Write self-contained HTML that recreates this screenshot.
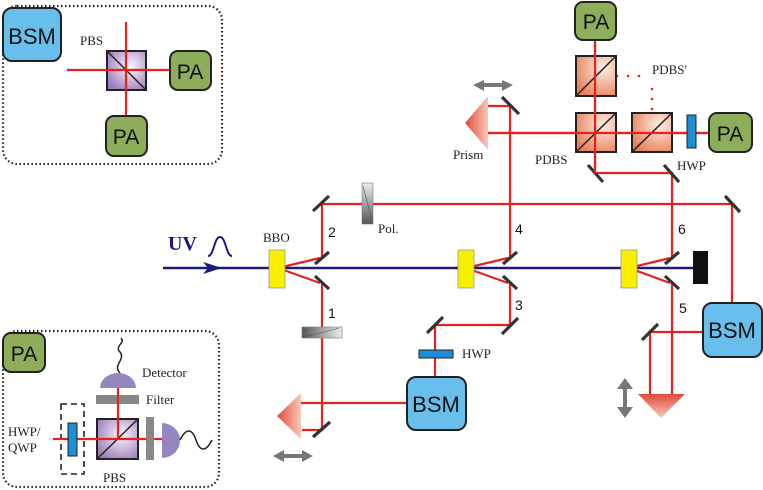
<!DOCTYPE html>
<html><head><meta charset="utf-8"><style>
html,body{margin:0;padding:0;background:#fff}
svg{display:block}
.r{stroke:#e3231f;stroke-width:2.2;fill:none}
.m{stroke:#333;stroke-width:3.2}
.ser{font-family:"Liberation Serif",serif;font-size:13px;fill:#222}
.san{font-family:"Liberation Sans",sans-serif;fill:#111}
</style></head><body>
<svg width="763" height="490" viewBox="0 0 763 490" xmlns="http://www.w3.org/2000/svg">
<defs>
<radialGradient id="pur" cx="0.6" cy="0.4" r="0.7"><stop offset="0" stop-color="#fbf6fd"/><stop offset="1" stop-color="#9b7cb8"/></radialGradient>
<radialGradient id="org" cx="0.7" cy="0.3" r="0.8"><stop offset="0" stop-color="#fdeee4"/><stop offset="1" stop-color="#e8805a"/></radialGradient>
<linearGradient id="pr" x1="0" x2="1"><stop offset="0" stop-color="#e24a3a"/><stop offset="1" stop-color="#f8c8b8"/></linearGradient>
<linearGradient id="prv" x1="0" y1="0" x2="0" y2="1"><stop offset="0" stop-color="#e24a3a"/><stop offset="1" stop-color="#f8c8b8"/></linearGradient>
<linearGradient id="pol" x1="0" x2="1"><stop offset="0" stop-color="#555"/><stop offset="1" stop-color="#eee"/></linearGradient>
<linearGradient id="polv" x1="0" y1="0" x2="0" y2="1"><stop offset="0" stop-color="#eee"/><stop offset="1" stop-color="#555"/></linearGradient>
</defs>

<!-- top-left inset -->
<rect x="3" y="6" width="219" height="158" rx="14" fill="none" stroke="#222" stroke-width="2.2" stroke-dasharray="1.5 2.5"/>
<rect x="3" y="8" width="58" height="53" rx="9" fill="#69bfec" stroke="#222" stroke-width="2"/>
<text x="32" y="44" class="san" font-size="22" text-anchor="middle">BSM</text>
<text x="80" y="45" class="ser">PBS</text>
<rect x="107" y="51" width="39" height="39" fill="url(#pur)" stroke="#222" stroke-width="2"/>
<line x1="107" y1="51" x2="146" y2="90" stroke="#222" stroke-width="1.5"/>
<line class="r" x1="67" y1="70" x2="171" y2="70"/>
<line class="r" x1="126" y1="22" x2="126" y2="117"/>
<rect x="170" y="51" width="41" height="39" rx="8" fill="#8ead5a" stroke="#222" stroke-width="2"/>
<text x="190" y="79" class="san" font-size="21" text-anchor="middle">PA</text>
<rect x="106" y="116" width="41" height="40" rx="8" fill="#8ead5a" stroke="#222" stroke-width="2"/>
<text x="126" y="144" class="san" font-size="21" text-anchor="middle">PA</text>

<!-- bottom-left inset -->
<rect x="3" y="331" width="216" height="156" rx="14" fill="none" stroke="#222" stroke-width="2.2" stroke-dasharray="1.5 2.5"/>
<rect x="3" y="333" width="42" height="39" rx="8" fill="#8ead5a" stroke="#222" stroke-width="2"/>
<text x="24" y="361" class="san" font-size="21" text-anchor="middle">PA</text>
<path d="M120 373 C112 365 126 360 120 352 C114 346 126 343 121 338" fill="none" stroke="#222" stroke-width="1.5"/>
<path d="M100 388 A18 15 0 0 1 136 388 Z" fill="#9586c0"/>
<text x="142" y="377" class="ser" font-size="14">Detector</text>
<rect x="96" y="395" width="43" height="9" fill="#888"/>
<text x="146" y="404" class="ser" font-size="14">Filter</text>
<rect x="61" y="404" width="23" height="70" fill="none" stroke="#222" stroke-width="1.6" stroke-dasharray="6 4"/>
<rect x="97" y="419" width="41" height="40" fill="url(#pur)" stroke="#222" stroke-width="2"/>
<line x1="97" y1="459" x2="138" y2="419" stroke="#222" stroke-width="1.5"/>
<line class="r" x1="53" y1="439" x2="163" y2="439"/>
<line class="r" x1="118" y1="388" x2="118" y2="439"/>
<rect x="68" y="423" width="9" height="33" fill="#1d8fd6" stroke="#222" stroke-width="1"/>
<rect x="146" y="417" width="8" height="43" fill="#888"/>
<path d="M162 423 A18 17.5 0 0 1 162 458 Z" fill="#9586c0"/>
<path d="M180 440 C186 428 192 428 196 440 C200 452 206 452 212 440" fill="none" stroke="#222" stroke-width="1.5"/>
<text x="8" y="436" class="ser" font-size="14">HWP/</text>
<text x="8" y="452" class="ser" font-size="14">QWP</text>
<text x="103" y="482" class="ser" font-size="14">PBS</text>

<!-- red beams main -->
<g class="r">
<polyline points="278,268 320,258"/><polyline points="278,268 320,283"/>
<polyline points="466,268 508,258"/><polyline points="466,268 508,283"/>
<polyline points="629,268 670,258"/><polyline points="629,268 670,283"/>
<polyline points="322,258 322,204 732,204 732,303"/>
<polyline points="322,283 322,430 302,430"/>
<line x1="301" y1="403" x2="408" y2="403"/>
<polyline points="510,258 510,106 488,106"/>
<line x1="488" y1="133" x2="710" y2="133"/>
<polyline points="510,283 510,325 435,325 435,377"/>
<polyline points="672,258 672,173 595,173 595,40"/>
<line x1="672" y1="283" x2="672" y2="394"/>
<polyline points="650,394 650,332 703,332"/>
</g>
<!-- dotted -->
<g fill="#e3231f">
<circle cx="606" cy="76" r="1.3"/><circle cx="617" cy="76" r="1.3"/><circle cx="628" cy="76" r="1.3"/><circle cx="639" cy="76" r="1.3"/>
<circle cx="652" cy="89" r="1.3"/><circle cx="652" cy="99" r="1.3"/><circle cx="652" cy="109" r="1.3"/><circle cx="652" cy="119" r="1.3"/>
</g>

<!-- UV -->
<line x1="163" y1="268" x2="693" y2="268" stroke="#1b1a7c" stroke-width="2.6"/>
<path d="M203 262 L222 268 L203 274 L208 268 Z" fill="#1b1a7c"/>
<text x="168" y="250" font-family="Liberation Serif,serif" font-weight="bold" font-size="20" fill="#1b1a7c">UV</text>
<path d="M208 256 C214 256 214 237 220 237 C226 237 226 256 232 256" fill="none" stroke="#1b1a7c" stroke-width="2"/>
<rect x="693" y="251" width="15" height="33" fill="#111"/>

<!-- BBOs -->
<rect x="269" y="250" width="16" height="38" fill="#f6f000" stroke="#999" stroke-width="0.8"/>
<rect x="458" y="250" width="16" height="38" fill="#f6f000" stroke="#999" stroke-width="0.8"/>
<rect x="621" y="250" width="16" height="38" fill="#f6f000" stroke="#999" stroke-width="0.8"/>
<text x="263" y="242" class="ser">BBO</text>

<!-- mirrors -->
<g class="m">
<line x1="315" y1="264" x2="329" y2="252"/><line x1="315" y1="276" x2="329" y2="289"/>
<line x1="313" y1="211" x2="329" y2="196"/>
<line x1="313" y1="437" x2="330" y2="422"/>
<line x1="503" y1="264" x2="517" y2="252"/><line x1="503" y1="276" x2="517" y2="289"/>
<line x1="502" y1="334" x2="518" y2="318"/>
<line x1="427" y1="333" x2="443" y2="317"/>
<line x1="502" y1="97" x2="519" y2="114"/>
<line x1="665" y1="264" x2="679" y2="252"/><line x1="665" y1="276" x2="679" y2="289"/>
<line x1="588" y1="165" x2="603" y2="182"/>
<line x1="664" y1="165" x2="679" y2="182"/>
<line x1="725" y1="196" x2="740" y2="212"/>
<line x1="642" y1="340" x2="658" y2="324"/>
</g>

<!-- polarizers -->
<rect x="362" y="183" width="11" height="41" fill="url(#polv)" stroke="#777" stroke-width="0.6"/>
<line x1="363" y1="186" x2="372" y2="221" stroke="#555" stroke-width="0.6"/>
<text x="378" y="233" class="ser">Pol.</text>
<rect x="302" y="327" width="40" height="11" fill="url(#pol)" stroke="#777" stroke-width="0.6"/>
<line x1="305" y1="337" x2="339" y2="328" stroke="#555" stroke-width="0.6"/>

<!-- prisms -->
<path d="M301 393 L301 439 L277 416 Z" fill="url(#pr)"/>
<path d="M488 96 L488 150 L465 123 Z" fill="url(#pr)"/>
<path d="M638 394 L685 394 L661 418 Z" fill="url(#prv)"/>
<text x="453" y="159" class="ser">Prism</text>

<!-- double arrows -->
<g fill="#777">
<path d="M273 456 L284 450 L284 454 L302 454 L302 450 L313 456 L302 462 L302 458 L284 458 L284 462 Z"/>
<path d="M473 85 L484 80 L484 83 L502 83 L502 80 L513 85 L502 91 L502 87 L484 87 L484 91 Z"/>
<path d="M625 378 L633 389 L627 389 L627 407 L633 407 L625 418 L617 407 L623 407 L623 389 L617 389 Z"/>
</g>

<!-- cubes -->
<g stroke="#222" stroke-width="2">
<rect x="576" y="56" width="40" height="40" fill="url(#org)"/>
<rect x="576" y="113" width="40" height="39" fill="url(#org)"/>
<rect x="632" y="113" width="40" height="39" fill="url(#org)"/>
<line x1="576" y1="96" x2="616" y2="56" stroke-width="1.5"/>
<line x1="576" y1="152" x2="616" y2="113" stroke-width="1.5"/>
<line x1="632" y1="152" x2="672" y2="113" stroke-width="1.5"/>
</g>
<line class="r" x1="595" y1="40" x2="595" y2="173"/>
<line class="r" x1="488" y1="133" x2="710" y2="133"/>
<rect x="687" y="115" width="9" height="33" fill="#1d8fd6" stroke="#222" stroke-width="1"/>
<rect x="575" y="2" width="41" height="38" rx="8" fill="#8ead5a" stroke="#222" stroke-width="2"/>
<text x="596" y="29" class="san" font-size="21" text-anchor="middle">PA</text>
<rect x="709" y="113" width="43" height="39" rx="8" fill="#8ead5a" stroke="#222" stroke-width="2"/>
<text x="730" y="141" class="san" font-size="21" text-anchor="middle">PA</text>
<text x="652" y="74" class="ser">PDBS′</text>
<text x="535" y="164" class="ser">PDBS</text>
<text x="677" y="170" class="ser">HWP</text>

<!-- HWP on beam 3 -->
<rect x="419" y="350" width="34" height="8" fill="#1d8fd6" stroke="#222" stroke-width="1"/>
<text x="462" y="358" class="ser">HWP</text>

<!-- BSMs -->
<rect x="407" y="377" width="59" height="53" rx="9" fill="#69bfec" stroke="#222" stroke-width="2"/>
<text x="436" y="412" class="san" font-size="22" text-anchor="middle">BSM</text>
<rect x="703" y="303" width="59" height="54" rx="9" fill="#69bfec" stroke="#222" stroke-width="2"/>
<text x="732" y="338" class="san" font-size="22" text-anchor="middle">BSM</text>

<!-- numbers -->
<g class="san" font-size="14">
<text x="328" y="237">2</text><text x="328" y="318">1</text>
<text x="515" y="234">4</text><text x="515" y="310">3</text>
<text x="678" y="234">6</text><text x="679" y="313">5</text>
</g>
</svg>
</body></html>
